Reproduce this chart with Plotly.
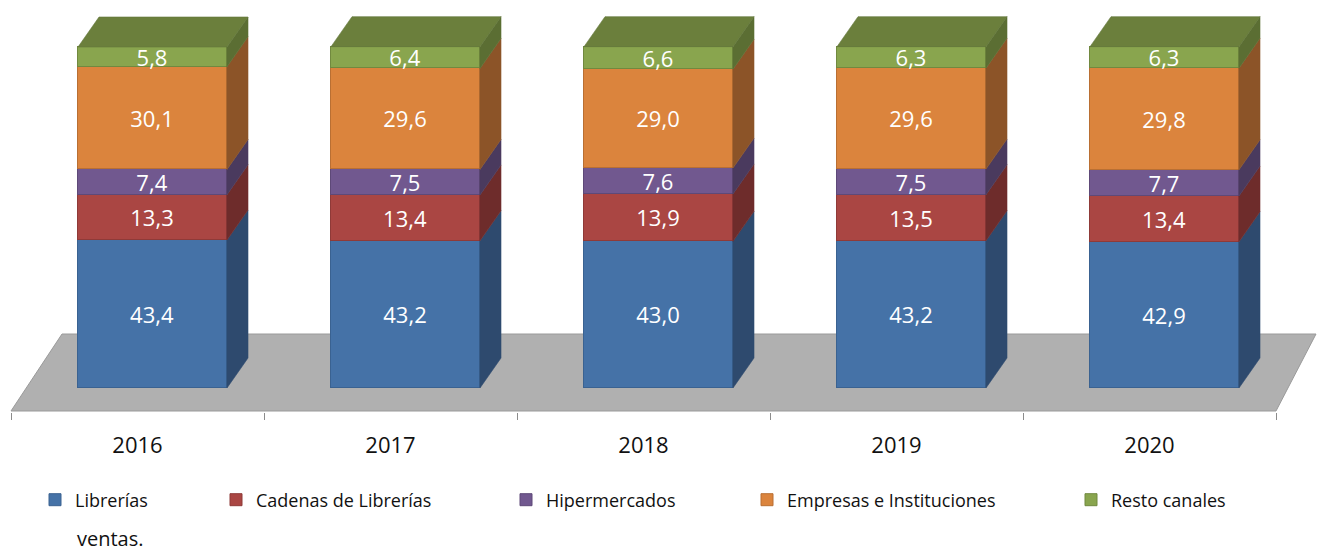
import plotly.graph_objects as go

# ---------------- data ----------------
years = ["2016", "2017", "2018", "2019", "2020"]
librerias = [43.4, 43.2, 43.0, 43.2, 42.9]
cadenas = [13.3, 13.4, 13.9, 13.5, 13.4]
hipermercados = [7.4, 7.5, 7.6, 7.5, 7.7]
empresas = [30.1, 29.6, 29.0, 29.6, 29.8]
resto = [5.8, 6.4, 6.6, 6.3, 6.3]

series_names = ["Librerías", "Cadenas de Librerías", "Hipermercados",
                "Empresas e Instituciones", "Resto canales"]
series_values = [librerias, cadenas, hipermercados, empresas, resto]

# ---------------- styles ----------------
front_colors = ["#4572A7", "#AA4643", "#71588F", "#DB843D", "#89A54E"]
side_colors = ["#2E4A6E", "#6E2C2B", "#4A3A5E", "#8C5428", "#5B6E33"]
edge_colors = ["#3A6291", "#8F3A38", "#5E4978", "#B96F33", "#71893F"]
top_color = "#6B7F3C"

W, H = 1317, 551
PX_CAT = 253.0          # pixels per category
FIRST_BOUND_PX = 11.0   # pixel of the first category boundary
PLOT_H = 412.0          # plot area height in px
ZERO_PX = 388.0         # pixel row of value 0 (bar front bottom)
PX_UNIT = 3.41          # pixels per value unit

bar_w = 149 / PX_CAT
bar_shift = 15 / PX_CAT
depth_x = 21 / PX_CAT
depth_y = 30 / PX_UNIT

floor_front_y = -(411 - ZERO_PX) / PX_UNIT
floor_back_y = (ZERO_PX - 334) / PX_UNIT
floor_dx_left = 51 / PX_CAT
floor_dx_right = 40 / PX_CAT

x_min = -0.5 - FIRST_BOUND_PX / PX_CAT
x_max = x_min + W / PX_CAT
y_min = -(PLOT_H - ZERO_PX) / PX_UNIT
y_max = ZERO_PX / PX_UNIT

n = len(years)
xpos = [i + bar_shift for i in range(n)]

fig = go.Figure()

legend_ids = ["legend", "legend2", "legend3", "legend4", "legend5"]

# front faces
for k, (name, vals) in enumerate(zip(series_names, series_values)):
    fig.add_trace(go.Bar(
        x=xpos, y=vals, width=bar_w, name=name,
        marker=dict(color=front_colors[k], line=dict(color=edge_colors[k], width=1)),
        texttemplate="%{y:.1f}", textposition="inside", insidetextanchor="middle",
        textfont=dict(family="Open Sans", size=22, color="white"),
        constraintext="none", cliponaxis=False,
        legend=legend_ids[k], hoverinfo="skip",
    ))

# side faces (computed from cumulative values)
base = [0.0] * n
for k, vals in enumerate(series_values):
    xs, ys = [], []
    for i in range(n):
        xr = xpos[i] + bar_w / 2
        y0 = base[i]
        y1 = base[i] + vals[i]
        xs += [xr, xr, xr + depth_x, xr + depth_x, xr, None]
        ys += [y0, y1, y1 + depth_y, y0 + depth_y, y0, None]
    fig.add_trace(go.Scatter(
        x=xs, y=ys, mode="lines", fill="toself", fillcolor=side_colors[k],
        line=dict(color=side_colors[k], width=0.6), showlegend=False, hoverinfo="skip",
    ))
    base = [b + v for b, v in zip(base, vals)]

# top faces
xs, ys = [], []
for i in range(n):
    xl = xpos[i] - bar_w / 2
    xr = xpos[i] + bar_w / 2
    t = base[i]
    xs += [xl, xr, xr + depth_x, xl + depth_x, xl, None]
    ys += [t, t, t + depth_y, t + depth_y, t, None]
fig.add_trace(go.Scatter(
    x=xs, y=ys, mode="lines", fill="toself", fillcolor=top_color,
    line=dict(color="#62763A", width=0.6), showlegend=False, hoverinfo="skip",
))

# floor
fl, fr = -0.5, n - 0.5
floor_path = (f"M{fl},{floor_front_y} L{fr},{floor_front_y} "
              f"L{fr + floor_dx_right},{floor_back_y} L{fl + floor_dx_left},{floor_back_y} Z")
fig.add_shape(type="path", path=floor_path, xref="x", yref="y", layer="below",
              fillcolor="#B0B0B0", line=dict(color="#9A9A9A", width=1))

# legends, one per series so each can be placed freely
legend_x_px = [35, 216, 506, 747, 1071]
legend_y = -(500 - PLOT_H) / PLOT_H
layout_legends = {}
for k, lid in enumerate(legend_ids):
    layout_legends[lid] = dict(
        x=legend_x_px[k] / W, y=legend_y, xanchor="left", yanchor="middle",
        orientation="h", bgcolor="rgba(0,0,0,0)",
        font=dict(family="Open Sans", size=18, color="#111111"),
    )

fig.update_layout(
    width=W, height=H,
    margin=dict(l=0, r=0, t=0, b=H - PLOT_H, pad=0),
    paper_bgcolor="white", plot_bgcolor="white",
    barmode="stack", bargap=0,
    separators=",.",
    uniformtext=dict(mode="show", minsize=22),
    xaxis=dict(
        range=[x_min, x_max], tickmode="array", tickvals=list(range(n)), ticktext=years,
        ticks="", showgrid=False, zeroline=False, showline=False,
        tickfont=dict(family="Open Sans", size=22, color="#111111"),
        ticklabelstandoff=18,
        minor=dict(tickmode="array", tickvals=[i - 0.5 for i in range(n + 1)],
                   ticks="outside", ticklen=7, tickcolor="#8C8C8C", tickwidth=1,
                   showgrid=False),
    ),
    yaxis=dict(range=[y_min, y_max], visible=False, showgrid=False, zeroline=False),
    annotations=[dict(text="ventas.", xref="paper", yref="paper",
                      x=75 / W, y=-(538 - PLOT_H) / PLOT_H, xanchor="left", yanchor="middle",
                      showarrow=False, font=dict(family="Open Sans", size=20, color="#111111"))],
    **layout_legends,
)

fig.write_html("out.html", config={"displayModeBar": False},
               post_script="document.body.style.margin='0';document.body.style.overflow='hidden';")
